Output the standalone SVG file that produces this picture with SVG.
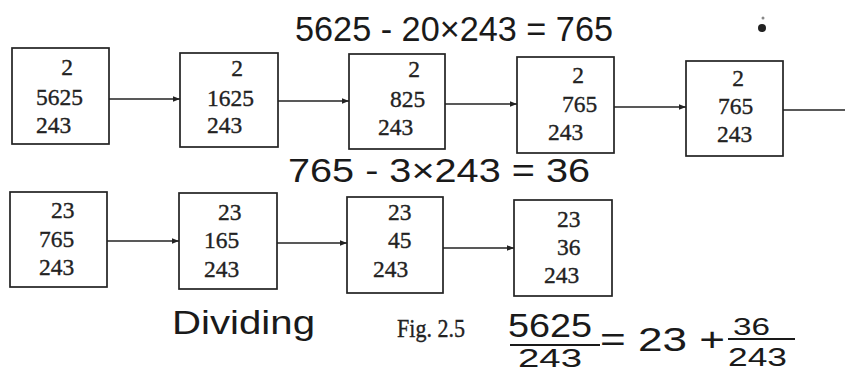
<svg xmlns="http://www.w3.org/2000/svg" width="845" height="375" viewBox="0 0 845 375">
<style>
.box{fill:#fff;stroke:#222;stroke-width:1.7}
.num{font-family:"Liberation Serif","Times New Roman",serif;font-size:23.5px;fill:#222;stroke:#222;stroke-width:0.35}
.hand{font-family:"Liberation Sans",Arial,sans-serif;fill:#1a1a1a}
.conn{stroke:#222;stroke-width:1.7;fill:none}
.bar{stroke:#1a1a1a;stroke-width:2.2;fill:none}
</style>
<defs>
<marker id="ah" viewBox="0 0 10 10" refX="10" refY="5" markerWidth="7" markerHeight="7" markerUnits="userSpaceOnUse" orient="auto">
<path d="M0,1 L10,5 L0,9 Z" fill="#222"/>
</marker>
</defs>
<rect width="845" height="375" fill="#fff"/>

<g id="connectors">
<line class="conn" x1="109" y1="99" x2="180" y2="99" marker-end="url(#ah)"/>
<line class="conn" x1="278" y1="101" x2="349" y2="101" marker-end="url(#ah)"/>
<line class="conn" x1="445" y1="104" x2="517" y2="104" marker-end="url(#ah)"/>
<line class="conn" x1="614" y1="107" x2="686" y2="107" marker-end="url(#ah)"/>
<line class="conn" x1="783" y1="110" x2="845" y2="110"/>
<line class="conn" x1="107" y1="241" x2="179" y2="241" marker-end="url(#ah)"/>
<line class="conn" x1="277" y1="243" x2="347" y2="243" marker-end="url(#ah)"/>
<line class="conn" x1="443" y1="248" x2="514" y2="248" marker-end="url(#ah)"/>
</g>

<g id="n1">
<rect class="box" x="12" y="48" width="97" height="96"/>
<text class="num" x="67" y="75" text-anchor="middle">2</text>
<text class="num" x="36" y="105">5625</text>
<text class="num" x="36" y="133">243</text>
</g>
<g id="n2">
<rect class="box" x="180" y="53" width="98" height="94"/>
<text class="num" x="237" y="76" text-anchor="middle">2</text>
<text class="num" x="207" y="106">1625</text>
<text class="num" x="207" y="133">243</text>
</g>
<g id="n3">
<rect class="box" x="349" y="54" width="96" height="95"/>
<text class="num" x="414" y="77" text-anchor="middle">2</text>
<text class="num" x="390" y="107">825</text>
<text class="num" x="378" y="135">243</text>
</g>
<g id="n4">
<rect class="box" x="517" y="57" width="97" height="96"/>
<text class="num" x="578" y="83" text-anchor="middle">2</text>
<text class="num" x="562" y="112">765</text>
<text class="num" x="548" y="140">243</text>
</g>
<g id="n5">
<rect class="box" x="686" y="61" width="97" height="95"/>
<text class="num" x="738" y="86" text-anchor="middle">2</text>
<text class="num" x="718" y="114">765</text>
<text class="num" x="717" y="142">243</text>
</g>

<g id="n6">
<rect class="box" x="10" y="192" width="97" height="95"/>
<text class="num" x="51" y="218">23</text>
<text class="num" x="39" y="247">765</text>
<text class="num" x="39" y="275">243</text>
</g>
<g id="n7">
<rect class="box" x="179" y="193" width="98" height="96"/>
<text class="num" x="218" y="220">23</text>
<text class="num" x="204" y="248">165</text>
<text class="num" x="204" y="277">243</text>
</g>
<g id="n8">
<rect class="box" x="347" y="197" width="96" height="96"/>
<text class="num" x="388" y="220">23</text>
<text class="num" x="388" y="248">45</text>
<text class="num" x="373" y="277">243</text>
</g>
<g id="n9">
<rect class="box" x="514" y="200" width="98" height="96"/>
<text class="num" x="557" y="227">23</text>
<text class="num" x="557" y="255">36</text>
<text class="num" x="544" y="283">243</text>
</g>

<g id="annotations">
<text class="hand" x="295" y="41" font-size="35" textLength="318" lengthAdjust="spacingAndGlyphs">5625 - 20×243 = 765</text>
<circle cx="762" cy="28" r="4" fill="#222"/>
<circle cx="763" cy="18" r="1.5" fill="#888"/>
<text class="hand" x="288" y="182" font-size="33" textLength="302" lengthAdjust="spacingAndGlyphs">765 - 3×243 = 36</text>
<text class="hand" x="172" y="334" font-size="33" textLength="143" lengthAdjust="spacingAndGlyphs">Dividing</text>
<text class="num" x="397" y="337" style="font-size:25px" textLength="68" lengthAdjust="spacingAndGlyphs">Fig. 2.5</text>
<text class="hand" x="508" y="337" font-size="33" textLength="84" lengthAdjust="spacingAndGlyphs">5625</text>
<line class="bar" x1="510" y1="345" x2="600" y2="345"/>
<text class="hand" x="518" y="367" font-size="26" textLength="64" lengthAdjust="spacingAndGlyphs">243</text>
<text class="hand" x="600" y="351" font-size="33" textLength="125" lengthAdjust="spacingAndGlyphs">= 23 +</text>
<text class="hand" x="733" y="335" font-size="23" textLength="37" lengthAdjust="spacingAndGlyphs">36</text>
<line class="bar" x1="728" y1="339" x2="795" y2="339"/>
<text class="hand" x="728" y="366" font-size="26" textLength="59" lengthAdjust="spacingAndGlyphs">243</text>
</g>
</svg>
